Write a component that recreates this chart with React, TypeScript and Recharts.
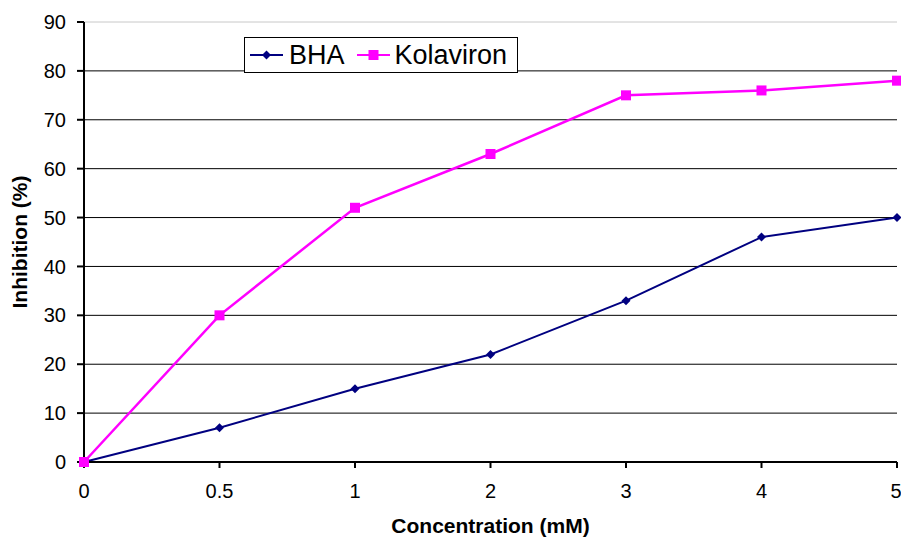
import { LineChart, Line, XAxis, YAxis, CartesianGrid, ReferenceLine } from 'recharts';

const concentrations = ['0', '0.5', '1', '2', '3', '4', '5'];
const bha = [0, 7, 15, 22, 33, 46, 50];
const kolaviron = [0, 30, 52, 63, 75, 76, 78];
const yTicks = [0, 10, 20, 30, 40, 50, 60, 70, 80, 90];

const data = concentrations.map((c, i) => ({ c, bha: bha[i], kolaviron: kolaviron[i] }));

const NAVY = '#000080';
const MAGENTA = '#FF00FF';
const FONT = '"Liberation Sans", Arial, sans-serif';

const Diamond = (props: any) => {
    const { cx, cy } = props;
    if (cx == null || cy == null) return null;
    const r = 4.5;
    return <path d={`M${cx},${cy - r}L${cx + r},${cy}L${cx},${cy + r}L${cx - r},${cy}Z`} fill={NAVY} />;
};

const Square = (props: any) => {
    const { cx, cy } = props;
    if (cx == null || cy == null) return null;
    return <rect x={cx - 5} y={cy - 5} width={10} height={10} fill={MAGENTA} />;
};

const LegendBox = () => (
    <div
        style={{
            position: 'absolute',
            left: 244,
            top: 37,
            boxSizing: 'border-box',
            width: 274,
            height: 36,
            display: 'flex',
            alignItems: 'center',
            border: '1px solid #000',
            background: '#fff',
            paddingLeft: 5,
            fontFamily: FONT,
            fontSize: 27,
            lineHeight: '30px',
            color: '#000',
        }}
    >
        <svg width={33} height={14}>
            <line x1={0} y1={7} x2={33} y2={7} stroke={NAVY} strokeWidth={2} />
            <path d="M16.5,2.5L21,7L16.5,11.5L12,7Z" fill={NAVY} />
        </svg>
        <span style={{ marginLeft: 6, marginRight: 12 }}>BHA</span>
        <svg width={33} height={14}>
            <line x1={0} y1={7} x2={33} y2={7} stroke={MAGENTA} strokeWidth={2} />
            <rect x={11.5} y={2} width={10} height={10} fill={MAGENTA} />
        </svg>
        <span style={{ marginLeft: 5 }}>Kolaviron</span>
    </div>
);

const tickStyle = { fill: '#000', fontSize: 20, fontFamily: FONT };

export default function App() {
    return (
        <div style={{ position: 'absolute', left: 0, top: 0, width: 901, height: 542, background: '#fff' }}>
            <LineChart width={901} height={542} data={data} margin={{ top: 22, right: 4, bottom: 0, left: 0 }}>
                <CartesianGrid vertical={false} stroke="#000" strokeWidth={1} horizontalValues={[10, 20, 30, 40, 50, 60, 70, 80]} />
                <ReferenceLine y={90} stroke="#c8c8c8" strokeWidth={1} />
                <XAxis
                    dataKey="c"
                    height={80}
                    stroke="#000"
                    strokeWidth={2}
                    tickSize={6}
                    fontSize={20}
                    fontFamily={FONT}
                    tick={tickStyle}
                    tickMargin={16}
                    label={{ value: 'Concentration (mM)', position: 'insideBottom', offset: 9, fill: '#000', fontSize: 21, fontWeight: 'bold', fontFamily: FONT }}
                />
                <YAxis
                    domain={[0, 90]}
                    ticks={yTicks}
                    width={84}
                    stroke="#000"
                    strokeWidth={2}
                    tickSize={7}
                    tickMargin={11}
                    fontSize={20}
                    fontFamily={FONT}
                    tick={tickStyle}
                    label={{ value: 'Inhibition (%)', angle: -90, position: 'insideLeft', offset: 20, fill: '#000', fontSize: 21, fontWeight: 'bold', fontFamily: FONT, style: { textAnchor: 'middle' } }}
                />
                <Line
                    dataKey="bha"
                    name="BHA"
                    stroke={NAVY}
                    strokeWidth={2}
                    dot={<Diamond />}
                    activeDot={false}
                    isAnimationActive={false}
                />
                <Line
                    dataKey="kolaviron"
                    name="Kolaviron"
                    stroke={MAGENTA}
                    strokeWidth={2.5}
                    dot={<Square />}
                    activeDot={false}
                    isAnimationActive={false}
                />
            </LineChart>
            <LegendBox />
        </div>
    );
}
